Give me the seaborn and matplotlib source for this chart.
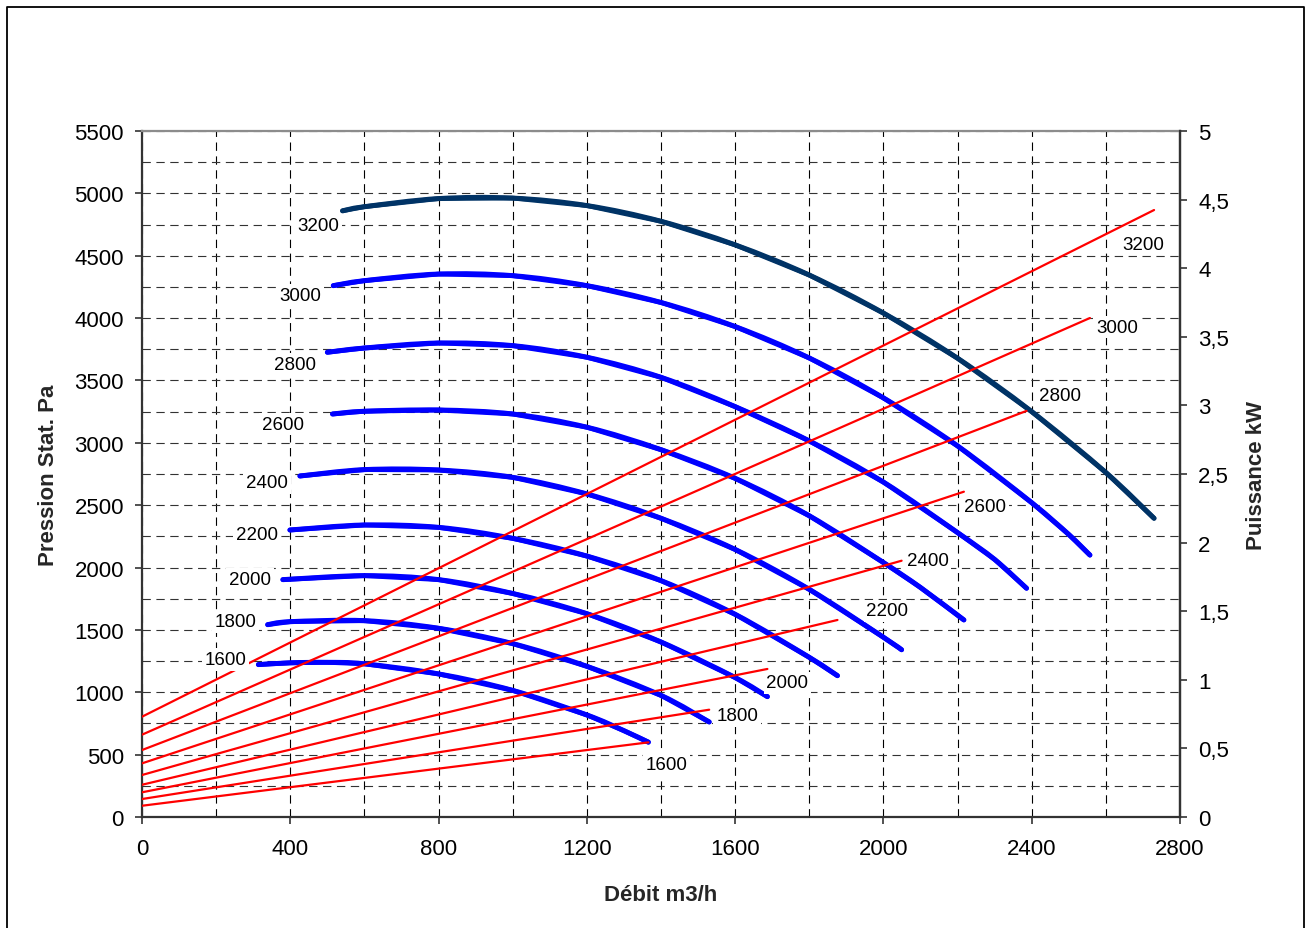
import numpy as np
import pandas as pd
import matplotlib
matplotlib.use("Agg")
import matplotlib.pyplot as plt
import seaborn as sns
from matplotlib.lines import Line2D
from matplotlib.path import Path
from matplotlib.patches import PathPatch
from matplotlib.ticker import FuncFormatter

# ---------------- data ----------------
speeds = [1600, 1800, 2000, 2200, 2400, 2600, 2800, 3000, 3200]

q_1600 = [314, 400, 500, 600, 800, 1000, 1200, 1300, 1366]
p_1600 = [1222, 1236, 1240, 1228, 1147, 1015, 818, 692, 600]
q_1800 = [339, 400, 600, 800, 1000, 1200, 1400, 1530]
p_1800 = [1542, 1566, 1574, 1513, 1390, 1208, 975, 762]
q_2000 = [380, 600, 800, 1000, 1200, 1400, 1600, 1687]
p_2000 = [1903, 1935, 1903, 1792, 1630, 1403, 1118, 965]
q_2200 = [399, 600, 800, 1000, 1200, 1400, 1600, 1800, 1876]
p_2200 = [2301, 2341, 2322, 2234, 2092, 1895, 1625, 1280, 1133]
q_2400 = [426, 600, 800, 1000, 1200, 1400, 1600, 1800, 2000, 2049]
p_2400 = [2734, 2785, 2782, 2723, 2590, 2395, 2145, 1825, 1441, 1341]
q_2600 = [514, 600, 800, 1000, 1200, 1400, 1600, 1800, 2000, 2100, 2217]
p_2600 = [3231, 3253, 3263, 3231, 3125, 2945, 2715, 2415, 2040, 1840, 1580]
q_2800 = [500, 600, 800, 1000, 1200, 1400, 1600, 1800, 2000, 2200, 2300, 2386]
p_2800 = [3726, 3760, 3800, 3779, 3686, 3525, 3290, 3015, 2685, 2280, 2065, 1834]
q_3000 = [516, 600, 800, 1000, 1200, 1400, 1600, 1800, 2000, 2200, 2400, 2500, 2557]
p_3000 = [4260, 4300, 4353, 4340, 4260, 4125, 3932, 3680, 3360, 2975, 2520, 2265, 2100]
q_3200 = [541, 600, 800, 1000, 1200, 1400, 1600, 1800, 2000, 2200, 2400, 2600, 2730]
p_3200 = [4860, 4893, 4958, 4962, 4902, 4776, 4587, 4345, 4040, 3678, 3250, 2762, 2395]

flows = [q_1600, q_1800, q_2000, q_2200, q_2400, q_2600, q_2800, q_3000, q_3200]
pressures = [p_1600, p_1800, p_2000, p_2200, p_2400, p_2600, p_2800, p_3000, p_3200]

# power lines (kW) at zero flow and at the end of each fan curve
kw_zero = [0.082, 0.131, 0.180, 0.235, 0.306, 0.391, 0.488, 0.600, 0.731]
kw_end = [0.544, 0.782, 1.079, 1.436, 1.868, 2.371, 2.960, 3.637, 4.424]

x_ticks = [0, 400, 800, 1200, 1600, 2000, 2400, 2800]
y_ticks = [0, 500, 1000, 1500, 2000, 2500, 3000, 3500, 4000, 4500, 5000, 5500]
kw_ticks = [0, 0.5, 1, 1.5, 2, 2.5, 3, 3.5, 4, 4.5, 5]

# ---------------- tables ----------------
rows = []
for s, qs, ps in zip(speeds, flows, pressures):
    for i, (q, p) in enumerate(zip(qs, ps)):
        rows.append({"speed": s, "order": i, "flow": q, "pressure": p})
df_p = pd.DataFrame(rows)

rows = []
for s, qs, k0, k1 in zip(speeds, flows, kw_zero, kw_end):
    rows.append({"speed": s, "order": 0, "flow": 0, "power": k0})
    rows.append({"speed": s, "order": 1, "flow": qs[-1], "power": k1})
df_w = pd.DataFrame(rows)


def smoothed_path(x, y):
    """Bezier path through the given points (smoothed-line rendering)."""
    pts = np.column_stack([x, y]).astype(float)
    n = len(pts)
    verts = [pts[0]]
    codes = [Path.MOVETO]
    for i in range(n - 1):
        p0 = pts[i - 1] if i > 0 else pts[i]
        p1 = pts[i]
        p2 = pts[i + 1]
        p3 = pts[i + 2] if i + 2 < n else pts[i + 1]
        verts += [p1 + (p2 - p0) / 6.0, p2 - (p3 - p1) / 6.0, p2]
        codes += [Path.CURVE4] * 3
    return Path(verts, codes)


# ---------------- style ----------------
sns.set_theme(style="white")
plt.rcParams["font.family"] = ["Liberation Sans", "DejaVu Sans"]
plt.rcParams["lines.scale_dashes"] = False

W, H = 1308, 929
fig = plt.figure(figsize=(W / 100, H / 100), dpi=100)
fig.patch.set_facecolor("white")
ax = fig.add_axes([142 / W, 1 - 818 / H, (1180 - 142) / W, (818 - 132) / H])
ax.set_facecolor("white")

blue_pal = {s: "#0000FF" for s in speeds}
blue_pal[3200] = "#003366"
red_pal = {s: "#FF0000" for s in speeds}

sns.lineplot(data=df_p, x="flow", y="pressure", hue="speed", units="speed",
             palette=blue_pal, estimator=None, sort=False, legend=False,
             linewidth=3.4, ax=ax, zorder=3, solid_capstyle="round",
             solid_joinstyle="round")

# smoothed rendering of the same curves (like a spreadsheet "smoothed line")
for line in list(ax.get_lines()):
    xd, yd = line.get_data()
    patch = PathPatch(smoothed_path(xd, yd), fill=False, edgecolor=line.get_color(),
                      linewidth=3.6, capstyle="round", joinstyle="round", zorder=3.1)
    ax.add_patch(patch)

ax.set_xlim(0, 2800)
ax.set_ylim(0, 5500)
ax.set_xticks(x_ticks)
ax.set_yticks(y_ticks)
ax.set_xticks(np.arange(0, 2801, 200), minor=True)
ax.set_yticks(np.arange(0, 5501, 250), minor=True)
ax.grid(which="both", axis="x", color="#000000", linestyle=(0, (6, 4)), linewidth=0.8)
ax.grid(which="both", axis="y", color="#333333", linestyle=(0, (6, 4)), linewidth=0.8)
ax.set_axisbelow(True)
ax.tick_params(which="minor", length=0)
ax.tick_params(which="major", direction="out", length=5, width=1.2, color="#333333",
               labelsize=16, labelcolor="black")
ax.tick_params(axis="x", pad=10, bottom=True)
ax.tick_params(axis="y", pad=8, left=True)

ax.set_xlabel("Débit m3/h", fontsize=16, fontweight="bold", labelpad=18)
ax.set_ylabel("Pression Stat. Pa", fontsize=16, fontweight="bold", labelpad=11)

for side in ["left", "bottom", "right"]:
    ax.spines[side].set_color("#333333")
    ax.spines[side].set_linewidth(1.6)
ax.spines["top"].set_color("#8c8c8c")
ax.spines["top"].set_linewidth(1.6)

ax2 = ax.twinx()
sns.lineplot(data=df_w, x="flow", y="power", hue="speed", units="speed",
             palette=red_pal, estimator=None, sort=False, legend=False,
             linewidth=1.6, ax=ax2, zorder=2)
ax2.set_ylim(0, 5)
ax2.set_xlim(0, 2800)
ax2.set_yticks(kw_ticks)
ax2.yaxis.set_major_formatter(FuncFormatter(lambda v, _: f"{v:g}".replace(".", ",")))
ax2.tick_params(axis="y", direction="out", length=5, width=1.2, color="#333333",
                labelsize=16, pad=8, right=True, labelcolor="black")
ax2.set_ylabel("Puissance kW", fontsize=16, fontweight="bold", labelpad=12)
ax2.grid(False)
for side in ["left", "bottom", "top"]:
    ax2.spines[side].set_visible(False)
ax2.spines["right"].set_color("#333333")
ax2.spines["right"].set_linewidth(1.6)

# ---------------- labels ----------------
bbox = dict(boxstyle="square,pad=0.15", fc="white", ec="none")
left_offsets = {3200: (-3, -15), 3000: (-12, -10), 2800: (-11, -12), 2600: (-29, -10),
                2400: (-12, -7), 2200: (-12, -4), 2000: (-12, 0), 1800: (-11, 3),
                1600: (-12, 5)}
right_offsets = {3200: (-32, -34), 3000: (6, -9), 2800: (12, 15), 2600: (0, -15),
                 2400: (5, 0), 2200: (29, 9), 2000: (-1, -14), 1800: (7, -6),
                 1600: (-3, -22)}

for s, qs, ps, k1 in zip(speeds, flows, pressures, kw_end):
    ax2.annotate(str(s), xy=(qs[0], ps[0]), xycoords=ax.transData,
                 xytext=left_offsets[s], textcoords="offset pixels",
                 ha="right", va="center", fontsize=13.5, color="black",
                 bbox=bbox, zorder=10, annotation_clip=False)
    ax2.annotate(str(s), xy=(qs[-1], k1), xycoords=ax2.transData,
                 xytext=right_offsets[s], textcoords="offset pixels",
                 ha="left", va="center", fontsize=13.5, color="black",
                 bbox=bbox, zorder=10, annotation_clip=False)

# outer frame of the chart area
fig.add_artist(Line2D([7 / W, 7 / W, 1304 / W, 1304 / W], [0, 1 - 8 / H, 1 - 8 / H, 0],
                      transform=fig.transFigure, color="black", linewidth=1.3))

fig.savefig("out.png", dpi=100)
